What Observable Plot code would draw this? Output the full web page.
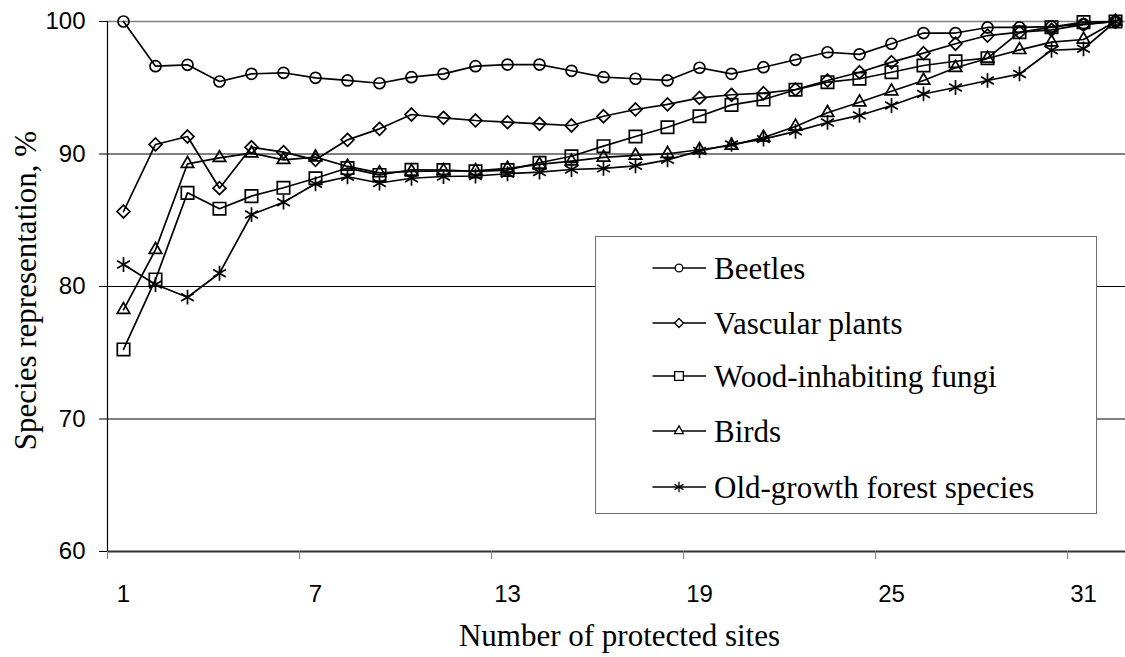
<!DOCTYPE html>
<html>
<head>
<meta charset="utf-8">
<script src="https://cdn.jsdelivr.net/npm/d3@7"></script>
<script src="https://cdn.jsdelivr.net/npm/@observablehq/plot@0.6"></script>
<style>
  body { margin: 0; background: #fff; }
  #wrap { position: relative; width: 1125px; height: 657px; overflow: hidden; background: #fff; }
  #legend { position: absolute; left: 595px; top: 236px; width: 502px; height: 278px; border: 1.5px solid #6e6e6e; background: #fff; box-sizing: border-box; }
  .row { position: absolute; left: 0; height: 0; }
  .row svg { position: absolute; left: 56px; top: -10px; overflow: visible; }
  .row span { position: absolute; left: 118px; top: 0; transform: translateY(-50%); font: 31px "Liberation Serif", "Times New Roman", serif; white-space: nowrap; line-height: 1; color: #000; }
</style>
</head>
<body>
<div id="wrap"></div>
<script>
// ---- data ----
const sites = [1,2,3,4,5,6,7,8,9,10,11,12,13,14,15,16,17,18,19,20,21,22,23,24,25,26,27,28,29,30,31,32];
const beetles = [100,96.63,96.73,95.47,96.05,96.13,95.75,95.55,95.34,95.8,96.05,96.63,96.75,96.75,96.28,95.8,95.68,95.55,96.51,96.05,96.55,97.11,97.68,97.52,98.32,99.13,99.13,99.55,99.55,99.61,99.8,100];
const vascularPlants = [85.66,90.72,91.32,87.42,90.51,90.14,89.56,91.07,91.9,92.98,92.73,92.53,92.4,92.28,92.15,92.85,93.36,93.74,94.23,94.47,94.59,94.87,95.55,96.17,96.93,97.61,98.32,98.94,99.19,99.37,99.77,100];
const woodFungi = [75.25,80.53,87.07,85.87,86.82,87.45,88.17,88.94,88.42,88.81,88.79,88.69,88.79,89.34,89.83,90.59,91.32,92.02,92.85,93.71,94.11,94.85,95.42,95.68,96.17,96.68,97.0,97.23,99.19,99.57,99.95,100];
const birds = [78.24,82.77,89.26,89.71,90.06,89.56,89.76,89.06,88.57,88.68,88.73,88.72,88.91,89.21,89.46,89.74,89.89,90.02,90.32,90.64,91.25,92.08,93.11,93.91,94.74,95.55,96.51,97.21,97.86,98.44,98.64,100];
const oldGrowth = [81.66,80.15,79.19,81.0,85.43,86.36,87.75,88.28,87.81,88.17,88.3,88.34,88.51,88.63,88.83,88.91,89.11,89.56,90.24,90.72,91.12,91.71,92.38,92.91,93.66,94.53,95.02,95.55,96.04,97.83,97.94,100];

const seriesNames = ["Beetles", "Vascular plants", "Wood-inhabiting fungi", "Birds", "Old-growth forest species"];
const xTickLabels = [1, 7, 13, 19, 25, 31];
const xTickMarks = [0.5, 6.5, 12.5, 18.5, 24.5, 30.5];
const yTicks = [60, 70, 80, 90, 100];
const yGrid = [70, 80, 90];
const xTitle = "Number of protected sites";
const yTitle = "Species representation, %";

// ---- build ----
const seriesValues = [beetles, vascularPlants, woodFungi, birds, oldGrowth];
const symbols = ["circle", "diamond2", "square", "triangle2", "asterisk"];
const radii = [5.5, 5.8, 7.0, 6.0, 7.0];

const rows = seriesNames.flatMap((name, k) =>
  seriesValues[k].map((v, i) => ({site: sites[i], value: v, name})));

const serif = "'Liberation Serif', 'Times New Roman', serif";
const sans = "'Liberation Sans', Arial, sans-serif";

const lineMarks = seriesNames.map(name =>
  Plot.line(rows.filter(d => d.name === name), {x: "site", y: "value", stroke: "#000", strokeWidth: 1.7}));
const dotMarks = seriesNames.map((name, k) =>
  Plot.dot(rows.filter(d => d.name === name), {x: "site", y: "value", symbol: symbols[k], r: radii[k], stroke: "#000", strokeWidth: 1.7, fill: "none"}));

const chart = Plot.plot({
  width: 1125,
  height: 657,
  marginLeft: 107,
  marginRight: -6,
  marginTop: 21,
  marginBottom: 106,
  x: {domain: [0.5, 32.5]},
  y: {domain: [60, 100]},
  style: {background: "white", fontFamily: sans, color: "#000"},
  marks: [
    Plot.ruleY(yGrid, {stroke: "#000", strokeWidth: 1}),
    Plot.ruleY([100], {stroke: "#808080", strokeWidth: 1.5}),
    ...lineMarks,
    ...dotMarks,
    Plot.ruleX([0.5], {stroke: "#000", strokeWidth: 1.2}),
    Plot.ruleY([60], {stroke: "#333", strokeWidth: 2}),
    Plot.axisY(yTicks, {tickSize: 8, tickPadding: 14, fontSize: 24, label: null, stroke: "#000", fill: "#000"}),
    Plot.axisX(xTickMarks, {tickSize: 8, tickFormat: () => "", label: null, stroke: "#808080"}),
    Plot.axisX(xTickLabels, {tickSize: 0, tickPadding: 33, fontSize: 24, label: null, fill: "#000"}),
    Plot.text([xTitle], {text: d => d, frameAnchor: "bottom", dy: 94, lineAnchor: "bottom", fontSize: 31, fontFamily: serif, fill: "#000"}),
    Plot.text([yTitle], {text: d => d, frameAnchor: "left", textAnchor: "middle", dx: -72, dy: 4, rotate: -90, lineAnchor: "bottom", fontSize: 31, fontFamily: serif, fill: "#000"})
  ]
});

const wrap = document.getElementById("wrap");
wrap.appendChild(chart);

// ---- legend (overlay inside plot area, as in the original) ----
const legend = document.createElement("div");
legend.id = "legend";
wrap.appendChild(legend);
const d3Symbols = {circle: d3.symbolCircle, diamond2: d3.symbolDiamond2, square: d3.symbolSquare, triangle2: d3.symbolTriangle2, asterisk: d3.symbolAsterisk};
const rowTops = [31, 85.5, 139, 194, 249.5];
seriesNames.forEach((name, k) => {
  const row = document.createElement("div");
  row.className = "row";
  row.style.top = rowTops[k] + "px";
  const svg = d3.create("svg").attr("width", 56).attr("height", 20);
  svg.append("line").attr("x1", 0.5).attr("x2", 54).attr("y1", 10).attr("y2", 10).attr("stroke", "#000").attr("stroke-width", 1.3);
  const lr = radii[k] * 0.7;
  svg.append("path").attr("transform", "translate(27,10)")
    .attr("d", d3.symbol(d3Symbols[symbols[k]], Math.PI * lr * lr)())
    .attr("fill", "#fff").attr("stroke", "#000").attr("stroke-width", 1.3);
  row.appendChild(svg.node());
  const span = document.createElement("span");
  span.textContent = name;
  row.appendChild(span);
  legend.appendChild(row);
});
</script>
</body>
</html>
